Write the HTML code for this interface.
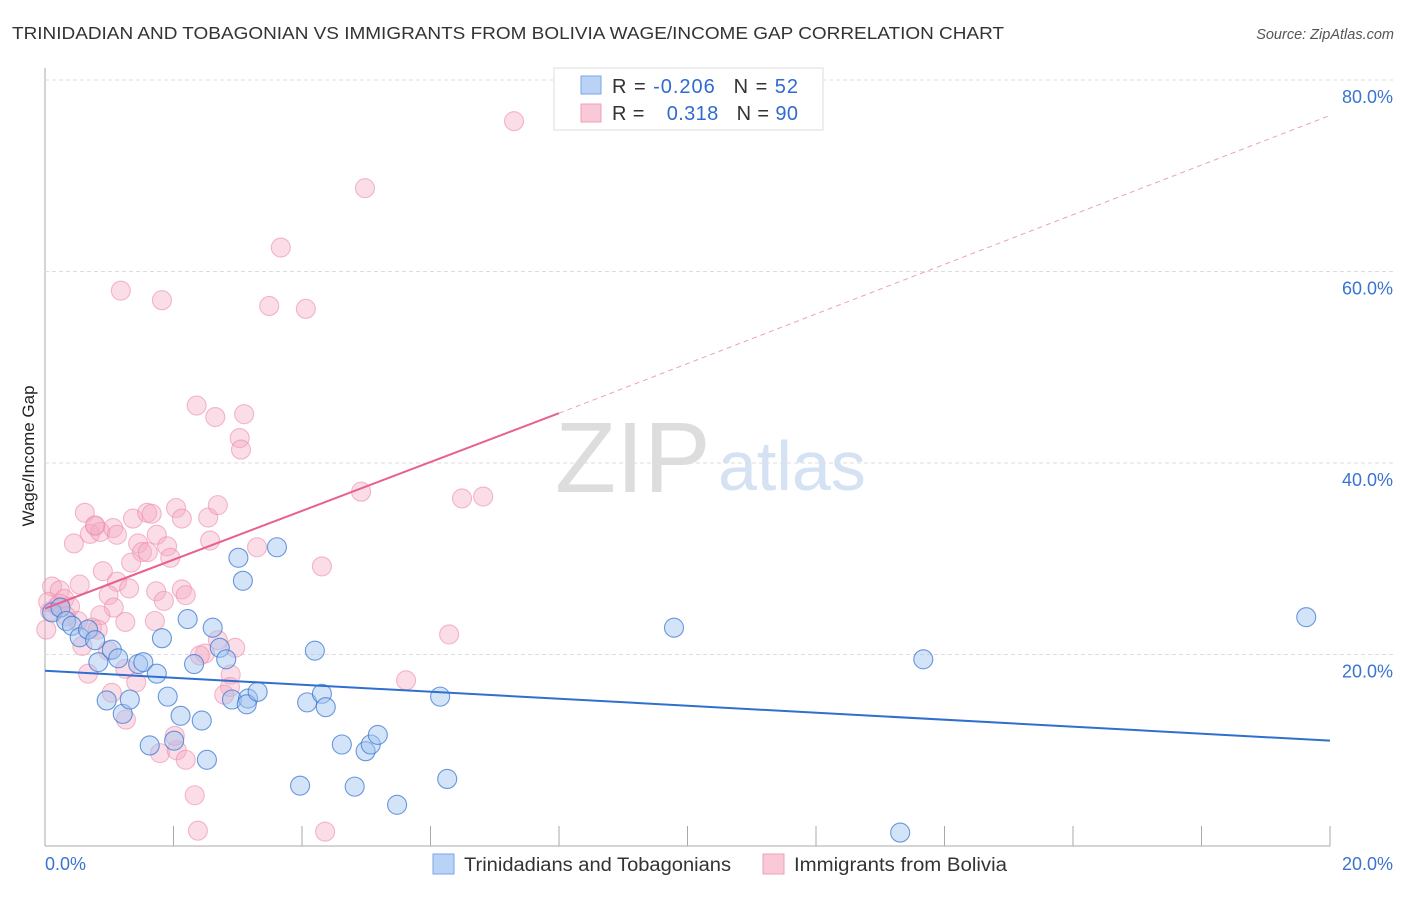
<!DOCTYPE html>
<html><head><meta charset="utf-8"><style>
body{margin:0;background:#fff;font-family:"Liberation Sans",sans-serif}
svg text{font-family:"Liberation Sans",sans-serif}
</style></head><body>
<svg id="c" width="1406" height="892">
<text x="12" y="39" font-size="17.5" fill="#333" textLength="992" lengthAdjust="spacingAndGlyphs">TRINIDADIAN AND TOBAGONIAN VS IMMIGRANTS FROM BOLIVIA WAGE/INCOME GAP CORRELATION CHART</text>
<text x="1394" y="39" font-size="14.5" fill="#555" text-anchor="end" font-style="italic">Source: ZipAtlas.com</text>
<text x="34" y="456" font-size="17" fill="#222" text-anchor="middle" transform="rotate(-90 34 456)">Wage/Income Gap</text>
<text x="555" y="492" font-size="100" fill="#ddd" font-family="Liberation Serif">ZIP</text>
<text x="718" y="490" font-size="70" fill="#d5e2f4">atlas</text>
<g id="grid"></g><g id="pts"></g><g id="lines"></g>
<g>
<rect x="554" y="68" width="269" height="62" fill="#fff" stroke="#ddd"/>
<rect x="581" y="76" width="20" height="18" fill="#b9d2f5" stroke="#7aa6e6"/>
<rect x="581" y="104" width="20" height="18" fill="#f9c9d8" stroke="#f0a0b8"/>
<text x="612" y="93" font-size="20" fill="#333" textLength="186" lengthAdjust="spacing">R = <tspan fill="#2f6bd0">-0.206</tspan><tspan dx="18">N = </tspan><tspan fill="#2f6bd0">52</tspan></text>
<text x="612" y="120" font-size="20" fill="#333" textLength="186" lengthAdjust="spacing">R = <tspan fill="#2f6bd0" dx="16">0.318</tspan><tspan dx="18">N = </tspan><tspan fill="#2f6bd0">90</tspan></text>
</g>
<g>
<rect x="433" y="854" width="21" height="20" fill="#b9d2f5" stroke="#7aa6e6"/>
<text x="464" y="871" font-size="19" fill="#333" textLength="267" lengthAdjust="spacingAndGlyphs">Trinidadians and Tobagonians</text>
<rect x="763" y="854" width="21" height="20" fill="#f9c9d8" stroke="#f0a0b8"/>
<text x="794" y="871" font-size="19" fill="#333" textLength="213" lengthAdjust="spacingAndGlyphs">Immigrants from Bolivia</text>
</g>
<text x="45" y="870" font-size="18" fill="#3a74d0">0.0%</text>
<text x="1393" y="870" font-size="18" fill="#3a74d0" text-anchor="end">20.0%</text>
</svg>
<script>
const yTicks=[20,40,60,80];
const yTickLabels=["20.0%","40.0%","60.0%","80.0%"];
const blueX=[0.11,0.24,0.33,0.42,0.54,0.67,0.78,0.83,0.96,1.04,1.14,1.21,1.32,1.45,1.53,1.63,1.74,1.82,1.91,2.01,2.11,2.22,2.32,2.44,2.52,2.61,2.72,2.82,2.91,3.01,3.08,3.16,3.14,3.31,3.61,3.97,4.08,4.20,4.31,4.37,4.62,4.82,4.99,5.07,5.18,5.48,6.15,6.26,9.79,13.31,13.67,19.63];
const blueY=[24.4,24.9,23.5,23.0,21.8,22.6,21.5,19.2,15.2,20.5,19.6,13.8,15.3,19.0,19.2,10.5,18.0,21.7,15.6,11.0,13.6,23.7,19.0,13.1,9.0,22.8,20.7,19.5,15.3,30.1,27.7,15.4,14.8,16.1,31.2,6.3,15.0,20.4,15.9,14.5,10.6,6.2,9.9,10.6,11.6,4.3,15.6,7.0,22.8,1.4,19.5,23.9];
const pinkX=[7.30,4.98,3.67,1.18,1.82,3.49,4.06,2.36,2.65,3.10,3.03,3.05,6.49,6.82,4.92,0.62,0.78,1.37,1.59,2.04,2.13,2.54,2.69,0.45,0.70,0.86,1.06,1.12,1.45,1.51,1.74,1.90,1.95,2.57,3.30,1.34,1.60,0.90,0.54,0.11,0.23,0.30,0.19,0.39,0.08,0.02,0.05,1.12,1.31,0.99,1.73,2.13,2.19,1.85,1.07,0.86,1.25,1.71,0.73,0.51,0.82,0.58,0.98,2.69,2.96,2.49,1.25,0.67,1.42,2.89,2.88,2.79,1.04,4.31,6.29,5.62,1.26,1.79,2.05,2.19,2.33,2.38,4.36,0.23,0.33,0.78,1.66,2.41,2.02];
const pinkY=[75.7,68.7,62.5,58.0,57.0,56.4,56.1,46.0,44.8,45.1,42.6,41.4,36.3,36.5,37.0,34.8,33.4,34.2,34.8,35.3,34.2,34.3,35.6,31.6,32.6,32.8,33.2,32.5,31.6,30.7,32.5,31.3,30.1,31.9,31.2,29.6,30.7,28.7,27.3,27.1,26.7,25.8,25.0,25.0,24.5,22.6,25.5,27.6,26.9,26.2,26.6,26.8,26.2,25.6,24.9,24.1,23.4,23.5,22.8,23.5,22.6,20.9,20.4,21.5,20.7,20.1,18.5,18.0,17.1,17.9,16.6,15.8,16.0,29.2,22.1,17.3,13.2,9.7,10.0,9.0,5.3,1.6,1.5,25.3,24.0,33.5,34.7,19.9,11.5];
const blueLine=[[0,18.3],[20,11.0]];
const pinkLine=[[0,24.8],[8,45.2],[20,76.3]];
const NS="http://www.w3.org/2000/svg";
const X=v=>45+v/20*1285, Y=v=>846-v/80*766;
function mk(t,a,p){const e=document.createElementNS(NS,t);for(const k in a)e.setAttribute(k,a[k]);p.appendChild(e);return e;}
const g=document.getElementById('grid');
const ax=mk('line',{x1:45,y1:68,x2:45,y2:846,stroke:'#aaa'},g);


const bx=mk('line',{x1:45,y1:846,x2:1330,y2:846,stroke:'#aaa'},g);


for(let i=0;i<=10;i++){const t=mk('line',{x1:X(i*2),x2:X(i*2),y1:826,y2:846,stroke:'#aaa'},g);

}
yTicks.forEach((v,i)=>{const l=mk('line',{x1:45,x2:1394,y1:Y(v),y2:Y(v),stroke:'#ddd','stroke-dasharray':'4,3'},g);


const t=mk('text',{x:1393,y:Y(v)+23,'font-size':18,fill:'#3a74d0','text-anchor':'end'},g);t.textContent=yTickLabels[i];

});
const p=document.getElementById('pts');
pinkX.forEach((x,i)=>{const c=mk('circle',{cx:X(x),cy:Y(pinkY[i]),r:9.5,fill:'rgba(246,170,195,0.4)',stroke:'rgba(236,140,170,0.6)','stroke-width':1.1},p);

});
blueX.forEach((x,i)=>{const c=mk('circle',{cx:X(x),cy:Y(blueY[i]),r:9.5,fill:'rgba(160,195,240,0.45)',stroke:'rgba(60,120,210,0.75)','stroke-width':1.1},p);

});
const L=document.getElementById('lines');
const b=mk('line',{x1:X(blueLine[0][0]),y1:Y(blueLine[0][1]),x2:X(blueLine[1][0]),y2:Y(blueLine[1][1]),stroke:'#2f6fd0','stroke-width':2},L);


const ps=mk('line',{x1:X(pinkLine[0][0]),y1:Y(pinkLine[0][1]),x2:X(pinkLine[1][0]),y2:Y(pinkLine[1][1]),stroke:'#e8608e','stroke-width':2},L);


const pd=mk('line',{x1:X(pinkLine[1][0]),y1:Y(pinkLine[1][1]),x2:X(pinkLine[2][0]),y2:Y(pinkLine[2][1]),stroke:'#eda0b8','stroke-width':1,'stroke-dasharray':'5,4'},L);


</script>
</body></html>
